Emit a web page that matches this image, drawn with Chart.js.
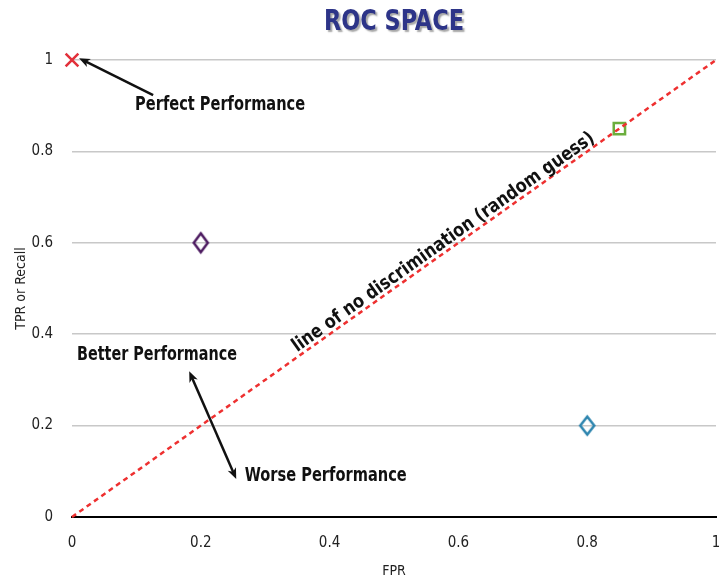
<!DOCTYPE html>
<html>
<head>
<meta charset="utf-8">
<script src="https://cdn.jsdelivr.net/npm/chart.js@4/dist/chart.umd.min.js"></script>
<style>
html, body { margin: 0; padding: 0; background: #fff; overflow: hidden; }
canvas { display: block; }
</style>
</head>
<body>
<canvas id="chart" width="719" height="582"></canvas>
<script>
// axis ticks
const xTicks = [0, 0.2, 0.4, 0.6, 0.8, 1]
const yTicks = [0, 0.2, 0.4, 0.6, 0.8, 1]

// classifiers in ROC space
const fprValues = [0, 0.2, 0.85, 0.8]
const tprValues = [1, 0.6, 0.85, 0.2]
const pointColors = ["#e2303a", "#4b195f", "#6bae3d", "#2c84ae"]

// random guess diagonal
const diagonalFpr = [0, 1]
const diagonalTpr = [0, 1]

// annotation labels (data coords of the text centre)
const noteTexts = ["Perfect Performance", "Better Performance", "Worse Performance"]
const noteX = [0.23, 0.132, 0.394]
const noteY = [0.902, 0.354, 0.09]
const noteWidths = [170, 160, 162]

const narrow = "'Liberation Sans Narrow', 'DejaVu Sans Condensed', 'Liberation Sans', sans-serif"

const makeDiamond = (color, w, h, lw) => {
	const c = document.createElement("canvas")
	c.width = w + lw * 2
	c.height = h + lw * 2
	const g = c.getContext("2d")
	const cx = c.width / 2, cy = c.height / 2
	g.strokeStyle = color
	g.lineWidth = lw
	g.beginPath()
	g.moveTo(cx, cy - h / 2)
	g.lineTo(cx + w / 2, cy)
	g.lineTo(cx, cy + h / 2)
	g.lineTo(cx - w / 2, cy)
	g.closePath()
	g.stroke()
	return c
}

const pointStyles = [
	"crossRot",
	makeDiamond(pointColors[1], 14, 19, 2.5),
	"rect",
	makeDiamond(pointColors[3], 14, 18, 2.5)
]
const pointRadii = [9, 9, 8, 9]

const fitText = (ctx, text, x, y, font, width) => {
	ctx.save()
	ctx.font = font
	const m = ctx.measureText(text).width
	ctx.translate(x, y)
	if (width) ctx.scale(width / m, 1)
	ctx.fillText(text, 0, 0)
	ctx.restore()
}

const drawArrow = (ctx, x1, y1, x2, y2, both) => {
	const a = Math.atan2(y2 - y1, x2 - x1)
	const head = (x, y, ang) => {
		ctx.beginPath()
		ctx.moveTo(x, y)
		ctx.lineTo(x - 11 * Math.cos(ang) + 4.5 * Math.sin(ang), y - 11 * Math.sin(ang) - 4.5 * Math.cos(ang))
		ctx.lineTo(x - 8 * Math.cos(ang), y - 8 * Math.sin(ang))
		ctx.lineTo(x - 11 * Math.cos(ang) - 4.5 * Math.sin(ang), y - 11 * Math.sin(ang) + 4.5 * Math.cos(ang))
		ctx.closePath()
		ctx.fill()
	}
	ctx.beginPath()
	ctx.moveTo(x1 + (both ? 6 * Math.cos(a) : 0), y1 + (both ? 6 * Math.sin(a) : 0))
	ctx.lineTo(x2 - 6 * Math.cos(a), y2 - 6 * Math.sin(a))
	ctx.stroke()
	head(x2, y2, a)
	if (both) head(x1, y1, a + Math.PI)
}

const arrowFrom = [[0.126, 0.923], [0.182, 0.319]]
const arrowTo = [[0.011, 1.004], [0.255, 0.083]]
const arrowBoth = [false, true]

const annotations = {
	id: "annotations",
	afterDatasetsDraw: (chart) => {
		const {ctx, scales: {x, y}, chartArea} = chart
		ctx.save()
		ctx.fillStyle = "#111"
		ctx.strokeStyle = "#111"
		ctx.lineWidth = 2.5
		arrowFrom.forEach((f, i) => {
			drawArrow(ctx,
				x.getPixelForValue(f[0]), y.getPixelForValue(f[1]),
				x.getPixelForValue(arrowTo[i][0]), y.getPixelForValue(arrowTo[i][1]),
				arrowBoth[i])
		})
		ctx.textAlign = "center"
		ctx.textBaseline = "middle"
		noteTexts.forEach((t, i) => {
			fitText(ctx, t, x.getPixelForValue(noteX[i]), y.getPixelForValue(noteY[i]),
				"bold 19px " + narrow, noteWidths[i])
		})
		// rotated label along the diagonal
		const x0 = x.getPixelForValue(diagonalFpr[0]), y0 = y.getPixelForValue(diagonalTpr[0])
		const x1 = x.getPixelForValue(diagonalFpr[1]), y1 = y.getPixelForValue(diagonalTpr[1])
		const ang = Math.atan2(y1 - y0, x1 - x0)
		const t = 0.585
		ctx.save()
		ctx.translate(x0 + (x1 - x0) * t, y0 + (y1 - y0) * t)
		ctx.rotate(ang)
		ctx.textBaseline = "alphabetic"
		fitText(ctx, "line of no discrimination (random guess)", 0, -4, "bold 19px " + narrow, 366)
		ctx.restore()
		// title
		ctx.textBaseline = "middle"
		ctx.fillStyle = "#2d3488"
		ctx.shadowColor = "rgba(0,0,0,0.35)"
		ctx.shadowOffsetX = 2
		ctx.shadowOffsetY = 2
		ctx.shadowBlur = 1.5
		fitText(ctx, "ROC SPACE", (chartArea.left + chartArea.right) / 2, 23, "bold 28px " + narrow, 140)
		ctx.restore()
	}
}

new Chart(document.getElementById("chart"), {
	type: "scatter",
	data: {
		datasets: [
			{
				type: "line",
				data: diagonalFpr.map((v, i) => ({x: v, y: diagonalTpr[i]})),
				borderColor: "#ee3030",
				borderWidth: 2.5,
				borderDash: [5, 4],
				pointRadius: 0,
				fill: false,
				clip: false
			},
			{
				data: fprValues.map((v, i) => ({x: v, y: tprValues[i]})),
				pointStyle: pointStyles,
				pointRadius: pointRadii,
				borderColor: pointColors,
				backgroundColor: "rgba(0,0,0,0)",
				borderWidth: 2.5,
				clip: false
			}
		]
	},
	options: {
		responsive: false,
		animation: false,
		layout: {autoPadding: false, padding: {top: 60, right: 3, left: 0, bottom: 0}},
		plugins: {legend: {display: false}, tooltip: {enabled: false}, title: {display: false}},
		scales: {
			x: {
				type: "linear",
				min: 0,
				max: 1,
				afterBuildTicks: (s) => { s.ticks = xTicks.map(v => ({value: v})) },
				afterFit: (s) => { s.height = 65; s.paddingLeft = 0; s.paddingRight = 0 },
				ticks: {padding: 17, color: "#222", font: {size: 15, family: narrow}, callback: (v) => String(v)},
				grid: {display: false, drawTicks: false},
				border: {display: true, color: "#000", width: 2},
				title: {display: true, text: "FPR", color: "#222", font: {size: 14, family: narrow}, padding: {top: 2.5, bottom: 2.5}}
			},
			y: {
				type: "linear",
				min: 0,
				max: 1,
				afterBuildTicks: (s) => { s.ticks = yTicks.map(v => ({value: v})) },
				afterFit: (s) => { s.width = 72 },
				ticks: {padding: 19, color: "#222", font: {size: 15, family: narrow}, callback: (v) => String(v)},
				grid: {
					drawTicks: false,
					lineWidth: 1.5,
					color: (c) => c.tick && c.tick.value === 0 ? "rgba(0,0,0,0)" : "#c8c8c8"
				},
				border: {display: false},
				title: {display: true, text: "TPR or Recall", color: "#222", font: {size: 14, family: narrow}, padding: {top: 13, bottom: 2}}
			}
		}
	},
	plugins: [annotations]
})
</script>
</body>
</html>
